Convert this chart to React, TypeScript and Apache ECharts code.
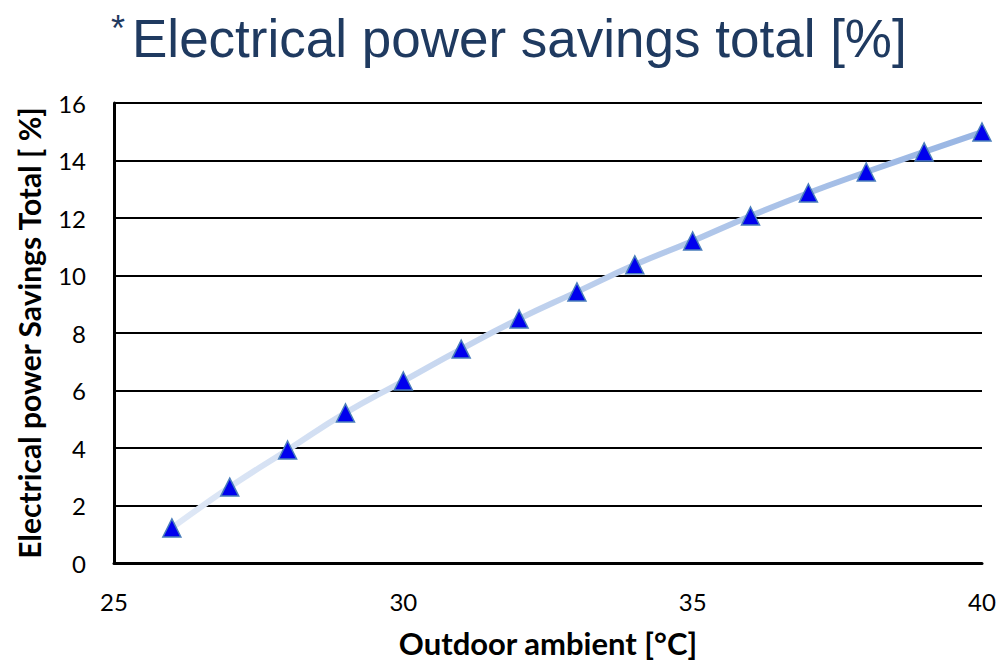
import React, { useEffect, useRef } from "react";
import * as echarts from "echarts";

const temperatures = [26, 27, 28, 29, 30, 31, 32, 33, 34, 35, 36, 37, 38, 39, 40];
const savings = [1.22, 2.64, 3.93, 5.22, 6.33, 7.44, 8.49, 9.43, 10.37, 11.2, 12.07, 12.87, 13.6, 14.3, 14.99];
const titleText = "Electrical power savings total [%]";
const xAxisName = "Outdoor ambient [°C]";
const yAxisName = "Electrical power Savings Total [ %]";

export default function App() {
  const ref = useRef<HTMLDivElement>(null);
  useEffect(() => {
    const chart = echarts.init(ref.current!, null, { renderer: "svg" });
    const labelFont = "Lato, sans-serif";
    chart.setOption({
      animation: false,
      backgroundColor: "#ffffff",
      graphic: [
        {
          type: "text",
          left: 111,
          top: 10,
          style: { text: "*", fontSize: 36, fill: "#1f3a60", fontFamily: "Liberation Sans, Arial, sans-serif" },
        },
        {
          type: "text",
          left: 132,
          top: 12,
          style: { text: titleText, fontSize: 53, fill: "#1f3a60", fontFamily: "Liberation Sans, Arial, sans-serif" },
        },
      ],
      grid: { left: 114, right: 21, top: 103, bottom: 102, containLabel: false, outerBoundsMode: "none" },
      xAxis: {
        type: "value",
        min: 25,
        max: 40,
        interval: 5,
        name: xAxisName,
        nameLocation: "middle",
        nameGap: 64,
        nameTextStyle: { fontSize: 31, fontWeight: "bold", color: "#000", fontFamily: labelFont },
        axisLine: { show: true, lineStyle: { color: "#000", width: 3 } },
        axisTick: { show: false },
        splitLine: { show: false },
        axisLabel: { fontSize: 24, color: "#000", margin: 26, fontFamily: labelFont },
      },
      yAxis: {
        type: "value",
        min: 0,
        max: 16,
        interval: 2,
        name: yAxisName,
        nameLocation: "middle",
        nameGap: 70,
        nameRotate: 90,
        nameTextStyle: { fontSize: 30, fontWeight: "bold", color: "#000", fontFamily: labelFont },
        axisLine: { show: true, lineStyle: { color: "#000", width: 3 } },
        axisTick: { show: false },
        splitLine: { show: true, lineStyle: { color: "#000", width: 2 } },
        axisLabel: { fontSize: 24, color: "#000", margin: 28, fontFamily: labelFont },
      },
      series: [
        {
          type: "line",
          data: temperatures.map((t, i) => [t, savings[i]]),
          smooth: true,
          symbol: "triangle",
          symbolSize: 18,
          itemStyle: { color: "#0000ee", borderColor: "#4a7ebb", borderWidth: 1.5 },
          lineStyle: {
            width: 6,
            color: new echarts.graphic.LinearGradient(0, 0, 1, 0, [
              { offset: 0, color: "#dfe8f6" },
              { offset: 1, color: "#98b5e3" },
            ]),
          },
          z: 3,
        },
      ],
    });
    return () => chart.dispose();
  }, []);
  return <div ref={ref} style={{ width: 1003, height: 665, position: "absolute", left: 0, top: 0 }} />;
}
